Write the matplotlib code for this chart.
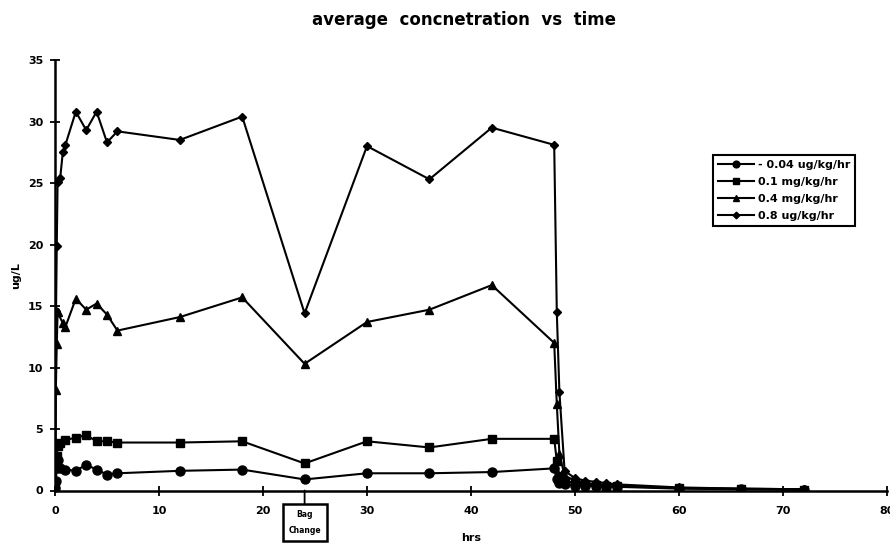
import matplotlib
matplotlib.use('Agg')
import matplotlib.pyplot as plt

# sampling times (hrs) and mean concentrations (ug/L) for each infusion rate
t_004 = [0, 0.08, 0.17, 0.25, 0.5, 1, 2, 3, 4, 5, 6, 12, 18, 24, 30, 36, 42, 48,
         48.25, 48.5, 49, 50, 51, 52, 53, 54, 60, 66, 72]
c_004 = [0.2, 0.8, 1.8, 2.5, 1.8, 1.7, 1.6, 2.1, 1.7, 1.3, 1.4, 1.6, 1.7, 0.9, 1.4, 1.4, 1.5, 1.8,
         0.9, 0.6, 0.5, 0.4, 0.4, 0.35, 0.3, 0.3, 0.15, 0.1, 0.05]

t_01 = [0, 0.08, 0.17, 0.25, 0.5, 1, 2, 3, 4, 5, 6, 12, 18, 24, 30, 36, 42, 48,
        48.25, 48.5, 49, 50, 51, 52, 53, 54, 60, 66, 72]
c_01 = [0.3, 2.2, 2.8, 3.6, 3.9, 4.1, 4.3, 4.5, 4.0, 4.0, 3.9, 3.9, 4.0, 2.2, 4.0, 3.5, 4.2, 4.2,
        2.4, 1.2, 0.8, 0.6, 0.5, 0.45, 0.4, 0.35, 0.2, 0.12, 0.08]

t_04 = [0, 0.08, 0.17, 0.25, 0.75, 1, 2, 3, 4, 5, 6, 12, 18, 24, 30, 36, 42, 48,
        48.25, 48.5, 49, 50, 51, 52, 53, 54, 60, 66, 72]
c_04 = [0.1, 8.2, 11.9, 14.5, 13.6, 13.3, 15.6, 14.7, 15.2, 14.3, 13.0, 14.1, 15.7, 10.3, 13.7, 14.7, 16.7, 12.0,
        7.0, 3.0, 1.2, 0.8, 0.6, 0.5, 0.45, 0.4, 0.2, 0.15, 0.1]

t_08 = [0, 0.1, 0.17, 0.25, 0.5, 0.75, 1, 2, 3, 4, 5, 6, 12, 18, 24, 30, 36, 42, 48,
        48.25, 48.5, 49, 50, 51, 52, 53, 54, 60, 66, 72]
c_08 = [0.2, 14.6, 19.9, 25.1, 25.4, 27.5, 28.1, 30.8, 29.3, 30.8, 28.3, 29.2, 28.5, 30.4, 14.4, 28.0, 25.3, 29.5, 28.1,
        14.5, 8.0, 1.6, 1.0, 0.8, 0.7, 0.6, 0.5, 0.25, 0.15, 0.1]

labels = ['- 0.04 ug/kg/hr', '0.1 mg/kg/hr', '0.4 mg/kg/hr', '0.8 ug/kg/hr']
x_ticks = [0, 10, 20, 30, 40, 50, 60, 70, 80]
y_ticks = [0, 5, 10, 15, 20, 25, 30, 35]
bag_change_t = 24

fig = plt.figure(figsize=(8.9, 5.46), dpi=100)
ax = fig.add_axes([55 / 890, 1 - 490.5 / 546, 832 / 890, 430.5 / 546])

ax.plot(t_004, c_004, color='black', lw=1.5, marker='o', ms=6.5, label=labels[0])
ax.plot(t_01, c_01, color='black', lw=1.5, marker='s', ms=6, label=labels[1])
ax.plot(t_04, c_04, color='black', lw=1.5, marker='^', ms=6, label=labels[2])
ax.plot(t_08, c_08, color='black', lw=1.5, marker='D', ms=4.5, label=labels[3])

ax.set_xlim(0, 80)
ax.set_ylim(0, 35)
ax.set_xticks(x_ticks)
ax.set_yticks(y_ticks)
ax.spines['top'].set_visible(False)
ax.spines['right'].set_visible(False)
ax.spines['left'].set_linewidth(1.8)
ax.spines['bottom'].set_linewidth(1.8)
for sp in ax.spines.values():
    sp.set_clip_on(False)
ax.tick_params(axis='both', direction='inout', length=7, width=1.3, labelsize=8)
ax.tick_params(axis='x', pad=8)
ax.tick_params(axis='y', pad=5)
for lab in ax.get_xticklabels() + ax.get_yticklabels():
    lab.set_fontweight('bold')

ax.set_xlabel('hrs', fontsize=8, fontweight='bold', labelpad=12)
ax.set_ylabel('ug/L', fontsize=8, fontweight='bold', labelpad=5)

fig.text(0.521, 0.963, 'average  concnetration  vs  time', ha='center', va='center',
         fontsize=12, fontweight='bold')

# bag change marker below the time axis
ax.annotate('Bag\nChange', xy=(bag_change_t, 0), xycoords=('data', 'axes fraction'),
            xytext=(bag_change_t, -0.045), textcoords=('data', 'axes fraction'),
            ha='center', va='top', fontsize=5.5, fontweight='bold', linespacing=2.0,
            bbox=dict(boxstyle='square,pad=0.75', fc='white', ec='black', lw=1.8),
            arrowprops=dict(arrowstyle='-', color='black', lw=1.3, shrinkA=0, shrinkB=0),
            annotation_clip=False)

leg = ax.legend(loc='upper left', bbox_to_anchor=(713 / 890, 1 - 155 / 546),
                bbox_transform=fig.transFigure, fontsize=8, frameon=True, fancybox=False,
                edgecolor='black', framealpha=1, handlelength=3.2, labelspacing=0.62,
                borderpad=0.45, handletextpad=0.4, borderaxespad=0, markerscale=0.75)
leg.get_frame().set_linewidth(1.5)
for txt in leg.get_texts():
    txt.set_fontweight('bold')

fig.savefig('out.png', dpi=100)
